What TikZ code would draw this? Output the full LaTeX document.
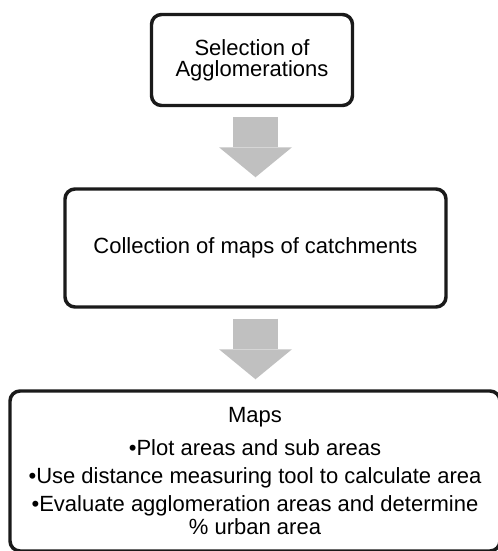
\documentclass[tikz,border=0pt]{standalone}
\usepackage{fontspec}
\setmainfont{Liberation Sans}
\usetikzlibrary{arrows.meta, positioning, calc}
\definecolor{arrowgray}{RGB}{192,192,192}
\definecolor{boxline}{RGB}{26,26,26}

\begin{document}
\begin{tikzpicture}[
    x=0.75pt, y=0.75pt,
    stage/.style={rectangle, draw=boxline, line width=2.6pt, rounded corners=7.5pt, align=center, font=\fontsize{16.5}{15.75}\selectfont, inner sep=0pt},
    bigarrow/.style={draw=arrowgray, line width=33.75pt, -{Triangle[length=22.5pt, width=54.75pt, line width=0pt]}, shorten <=7.5pt, shorten >=7.5pt},
]
\useasboundingbox (0,0) rectangle (498,551);

% Stages
\node[stage, minimum width=150.75pt, minimum height=68.25pt] (select) at (252, 491) {Selection of\\Agglomerations};
\node[stage, minimum width=285.75pt, minimum height=88.5pt] (collect) at (255.5, 303) {Collection of maps of catchments};
\node[stage, minimum width=367.5pt, minimum height=120pt, font=\fontsize{16.5}{17.25}\selectfont] (maps) at (255, 80) {Maps\\[7.5pt]
    \textbullet Plot areas and sub areas\\[3.75pt]
    \textbullet Use distance measuring tool to calculate area\\[3.75pt]
    \textbullet Evaluate agglomeration areas and determine\\
    \% urban area};

% Flow
\draw[bigarrow] (collect.north |- select.south) -- (collect.north);
\draw[bigarrow] (collect.south) -- (collect.south |- maps.north);

\end{tikzpicture}
\end{document}
